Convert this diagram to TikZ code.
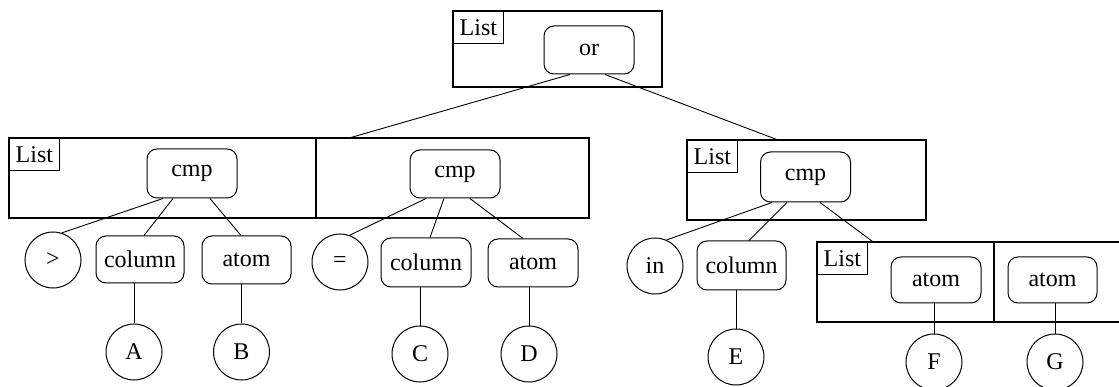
\documentclass[tikz,border=0pt]{standalone}
\usepackage{fontspec}
\setmainfont{Liberation Serif}
\usetikzlibrary{calc}
\begin{document}
\begin{tikzpicture}[x=1pt,y=-1pt,
  every node/.style={font=\fontsize{24}{28}\selectfont, inner sep=0pt},
  cell/.style={draw, line width=1.3pt, rectangle},
  tag/.style={draw, line width=1pt, anchor=north west, minimum width=51pt, minimum height=33pt},
  op/.style={draw, line width=1pt, rounded corners=10pt, minimum width=#1, minimum height=48pt},
  op/.default=90pt,
  leaf/.style={draw, line width=1pt, circle, minimum size=56pt},
  link/.style={line width=0.9pt}]
\useasboundingbox (0,0) rectangle (1119,387);

% list containers
\node[cell, minimum width=209pt, minimum height=76pt] (L0) at (557.5,49) {};
\node[tag] (T0) at (L0.north west) {List};
\node[cell, minimum width=307pt, minimum height=80pt] (L1a) at (162.5,178) {};
\node[cell, minimum width=273pt, minimum height=80pt] (L1b) at (452.5,178) {};
\node[tag] (T1) at (L1a.north west) {List};
\node[cell, minimum width=239pt, minimum height=80pt] (L2) at (806.5,180) {};
\node[tag] (T2) at (L2.north west) {List};
\node[cell, minimum width=177pt, minimum height=80pt] (L3a) at (905.5,282) {};
\node[cell, minimum width=131pt, minimum height=80pt] (L3b) at (1059.5,282) {};
\node[tag] (T3) at (L3a.north west) {List};

% operator boxes
\node[op] (or) at (589,50) {or};
\node[op, minimum height=49pt] (cmp1) at (192,173.5) {cmp};
\node[op] (cmp2) at (455,174) {cmp};
\node[op, minimum height=50pt] (cmp3) at (805.5,177) {cmp};

\node[op=88pt, minimum height=47pt] (col1) at (140,259.5) {column};
\node[op=89pt] (at1) at (246.5,260) {atom};
\node[op, minimum height=49pt] (col2) at (426,262.5) {column};
\node[op] (at2) at (533,263) {atom};
\node[op=89pt, minimum height=49pt] (col3) at (741.5,265.5) {column};
\node[op, minimum height=46pt] (at3) at (936,280) {atom};
\node[op=89pt, minimum height=46pt] (at4) at (1052.5,280) {atom};

% leaves
\node[leaf] (gt) at (53,260) {>};
\node[leaf] (A) at (134,352) {A};
\node[leaf] (B) at (241.5,352) {B};
\node[leaf] (eq) at (340,262) {=};
\node[leaf] (C) at (420,354) {C};
\node[leaf] (D) at (529,354) {D};
\node[leaf] (in) at (655,266) {in};
\node[leaf] (E) at (736,357) {E};
\node[leaf] (F) at (934,362) {F};
\node[leaf] (G) at (1055,362) {G};

% connectors
\draw[link] ($(or.south)+(-19,0)$) -- ($(L1b.north west)+(36,0)$);
\draw[link] ($(or.south)+(16,0)$) -- ($(L2.north west)+(90,0)$);

\draw[link] ($(cmp1.south)+(-29,0)$) -- (gt.72);
\draw[link] ($(cmp1.south)+(-19,0)$) -- ($(col1.north)+(4,0)$);
\draw[link] ($(cmp1.south)+(18,0)$) -- ($(at1.north)+(-5.5,0)$);

\draw[link] ($(cmp2.south)+(-29,0)$) -- (eq.70);
\draw[link] ($(cmp2.south)+(-11,0)$) -- ($(col2.north)+(4,0)$);
\draw[link] ($(cmp2.south)+(15,0)$) -- ($(at2.north)+(-10,0)$);

\draw[link] ($(cmp3.south)+(-33.5,0)$) -- (in.66);
\draw[link] ($(cmp3.south)+(-18.5,0)$) -- ($(col3.north)+(7.5,0)$);
\draw[link] ($(cmp3.south)+(14.5,0)$) -- ($(L3a.north west)+(56,0)$);

\draw[link] (A.north |- col1.south) -- (A.north);
\draw[link] (B.north |- at1.south) -- (B.north);
\draw[link] (C.north |- col2.south) -- (C.north);
\draw[link] (D.north |- at2.south) -- (D.north);
\draw[link] (E.north |- col3.south) -- (E.north);
\draw[link] (F.north |- at3.south) -- (F.north);
\draw[link] (G.north |- at4.south) -- (G.north);
\end{tikzpicture}
\end{document}
